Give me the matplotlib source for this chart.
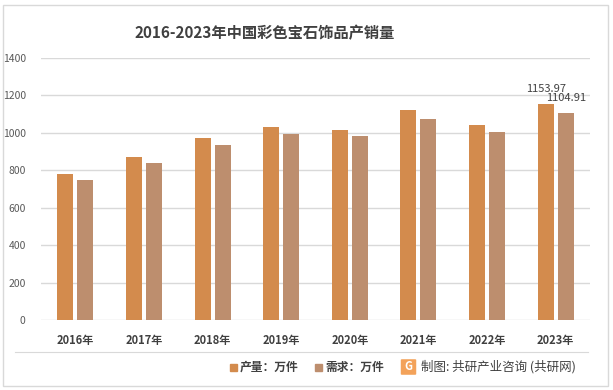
import matplotlib
matplotlib.use("Agg")
import matplotlib.pyplot as plt
import numpy as np
from matplotlib.patches import Rectangle, FancyBboxPatch
from matplotlib.lines import Line2D

plt.rcParams['font.family'] = ['Noto Sans CJK SC', 'DejaVu Sans']

years = ["2016年", "2017年", "2018年", "2019年", "2020年", "2021年", "2022年", "2023年"]
production = [780, 870, 972, 1031, 1015, 1121, 1041, 1153.97]
demand = [748, 838, 935, 993, 983, 1073, 1004, 1104.91]
yticks = [0, 200, 400, 600, 800, 1000, 1200, 1400]
title = "2016-2023年中国彩色宝石饰品产销量"
legend_labels = ["产量：万件", "需求：万件"]
source = "制图: 共研产业咨询 (共研网)"

c_prod = "#D38B4D"
c_dem = "#BD8E6E"
txt = "#404040"

W, H = 613, 390
fig = plt.figure(figsize=(W / 100, H / 100), dpi=100)
fig.patch.set_facecolor("white")

# outer border
fig.add_artist(Rectangle((3 / W, 4 / H), 605 / W, 381 / H, transform=fig.transFigure,
                         fill=False, edgecolor="#D9D9D9", linewidth=1.0))

ax = fig.add_axes([41 / W, 1 - 320 / H, (590 - 41) / W, (320 - 58) / H])
x = np.arange(len(years))
bw = 0.233
off = 0.146
ax.bar(x - off, production, width=bw, color=c_prod, zorder=3)
ax.bar(x + off, demand, width=bw, color=c_dem, zorder=3)

ax.set_xlim(-0.5, len(years) - 0.5)
ax.set_ylim(0, 1400)
ax.set_yticks(yticks)
ax.set_yticklabels([str(v) for v in yticks], fontsize=7.5, color="#595959")
ax.set_xticks(x)
ax.set_xticklabels(years, fontsize=8, color=txt, fontweight="bold")
ax.tick_params(axis="both", length=0)
ax.tick_params(axis="y", pad=11)
ax.tick_params(axis="x", pad=10)
ax.grid(axis="y", color="#D9D9D9", linewidth=1.0, zorder=0)
for s in ax.spines.values():
    s.set_visible(False)

# data labels for last year
i = len(years) - 1
ax.annotate(f"{production[i]:.2f}", (x[i] - off, production[i]), xytext=(0, 7.5),
            textcoords="offset points", ha="center", va="bottom", fontsize=8, color=txt)
ax.annotate(f"{demand[i]:.2f}", (x[i] + off, demand[i]), xytext=(0, 7.5),
            textcoords="offset points", ha="center", va="bottom", fontsize=8, color=txt)

fig.text(0.5 * (135 + 395) / W, 1 - 33 / H, title, ha="center", va="center",
         fontsize=11, fontweight="bold", color=txt)

# separator line above legend
fig.add_artist(Line2D([15 / W, 588 / W], [1 - 352 / H, 1 - 352 / H],
                      transform=fig.transFigure, color="#D9D9D9", linewidth=0.8))

ly = 1 - 367 / H
sq = 7
fig.add_artist(Rectangle((230 / W, ly - sq / 2 / H), sq / W, sq / H,
                         transform=fig.transFigure, color=c_prod))
fig.text(240 / W, ly, legend_labels[0], ha="left", va="center", fontsize=8.5,
         color=txt, fontweight="bold")
fig.add_artist(Rectangle((315 / W, ly - sq / 2 / H), sq / W, sq / H,
                         transform=fig.transFigure, color=c_dem))
fig.text(325 / W, ly, legend_labels[1], ha="left", va="center", fontsize=8.5,
         color=txt, fontweight="bold")
# logo
fig.add_artist(FancyBboxPatch((402 / W, ly - 7 / H), 13 / W, 14 / H,
                              boxstyle="round,pad=0.002", transform=fig.transFigure,
                              facecolor="#F3A25A", edgecolor="none"))
fig.text(408.5 / W, ly, "G", ha="center", va="center", fontsize=8, color="white",
         fontweight="bold")
fig.text(421 / W, ly, source, ha="left", va="center", fontsize=9, color=txt)

fig.savefig("out.png", dpi=100, facecolor="white")
